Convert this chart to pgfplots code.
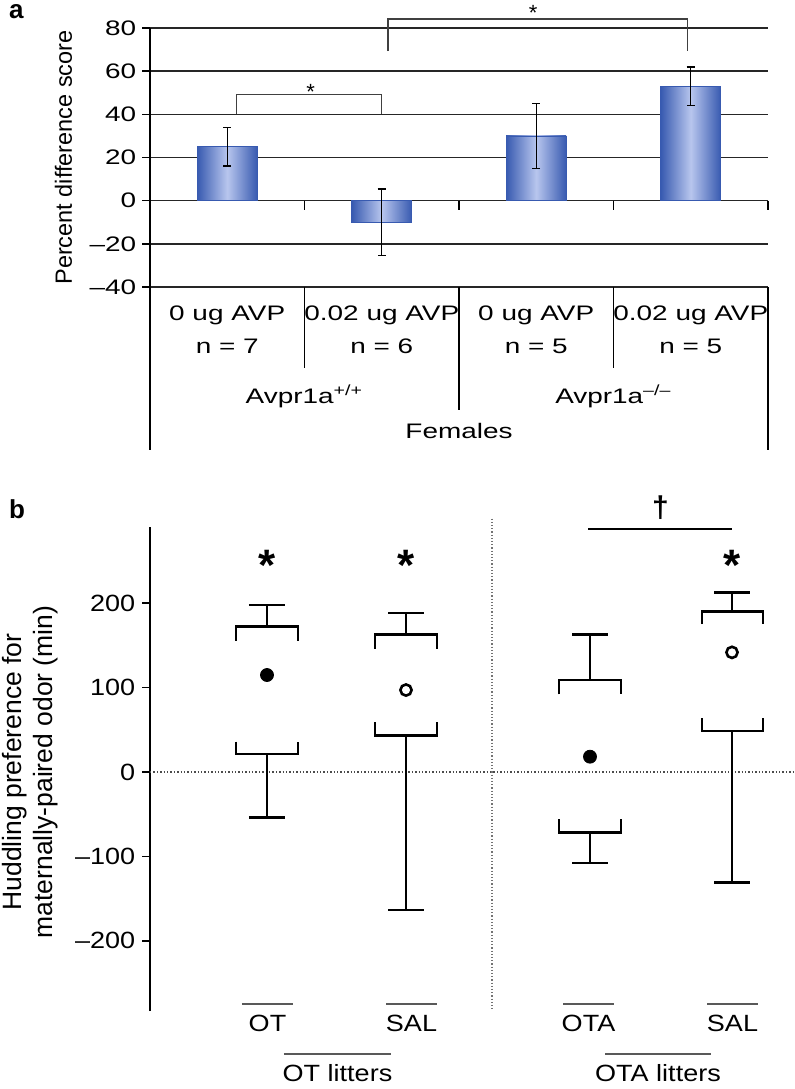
\documentclass[border=0pt]{standalone}
\usepackage{fontspec}
\setmainfont{Liberation Sans}
\usepackage{pgfplots}
\usepackage{pgfplotstable}
\pgfplotsset{compat=1.18}

\definecolor{barEdge}{RGB}{56,90,176}
\definecolor{barMid}{RGB}{184,198,238}

% panel a: mean and error
\pgfplotstableread{
x   y    e
0.5 25   9
1.5 -10  15.5
2.5 30   15
3.5 53   9
}\barsA

\tikzset{
  ta/.style={font=\fontsize{10.5}{12.6}\selectfont, xscale=1.33},
  tb/.style={font=\fontsize{11.75}{14}\selectfont, xscale=1.15},
  gl/.style={black, line width=1.25pt, mark=none},
  bara/.style={ybar, bar width=30pt, bar shift=0pt, draw=barEdge, line width=0.4pt,
    left color=barEdge, right color=barEdge, middle color=barMid},
}

\begin{document}
\begin{tikzpicture}
\path[use as bounding box] (0,0) rectangle (397pt,-544.5pt);

\node[anchor=base west, font=\fontsize{13}{15}\selectfont\bfseries] at (1pt,-9pt) {a};
\node[anchor=base west, font=\fontsize{13}{15}\selectfont\bfseries] at (1pt,-259pt) {b};

% ---------- panel a ----------
\begin{axis}[
  at={(75pt,-143.5pt)}, anchor=south west, scale only axis,
  width=309pt, height=129.5pt,
  xmin=0, xmax=4, ymin=-40, ymax=80,
  axis x line=none, axis y line*=left, ytick pos=left,
  axis line style={line width=0.7pt, black},
  ytick={-40,-20,0,20,40,60,80},
  yticklabels={–40,–20,0,20,40,60,80},
  ymajorgrids, grid style={line width=0.8pt, black!85},
  tick align=outside, major tick length=4pt,
  ytick style={line width=0.7pt, black},
  yticklabel style={ta, inner sep=0pt, xshift=-2pt},
  clip=false,
]
% one plot per bar so that each bar gets its own shading
\addplot[bara] coordinates {(0.5,25)};
\addplot[bara] coordinates {(1.5,-10)};
\addplot[bara] coordinates {(2.5,30)};
\addplot[bara] coordinates {(3.5,53)};
\addplot[draw=none, mark=none,
  error bars/.cd, y dir=both, y explicit,
  error bar style={draw=black, line width=0.7pt},
  error mark options={draw=black, rotate=90, mark size=2pt, line width=0.7pt}]
  table[x=x, y=y, y error=e] {\barsA};

% significance brackets
\addplot[black!75, line width=0.6pt] coordinates {(0.56,40)(0.56,49.3)(1.5,49.3)(1.5,40)};
\addplot[black!75, line width=0.6pt] coordinates {(1.54,69.3)(1.54,84.2)(3.48,84.2)(3.48,69.3)};
\node[anchor=north, inner sep=0pt, font=\fontsize{11}{11}\selectfont] at (axis cs:1.04,54.2) {*};
\node[anchor=north, inner sep=0pt, font=\fontsize{11}{11}\selectfont] at (axis cs:2.48,90.8) {*};

% ticks on the zero line and the category table
\draw[line width=0.7pt] (axis cs:1,0) -- (axis cs:1,-4.2);
\draw[line width=0.7pt] (axis cs:2,0) -- (axis cs:2,-4.2);
\draw[line width=0.7pt] (axis cs:3,0) -- (axis cs:3,-4.2);
\draw[line width=0.7pt] (axis cs:4,0) -- (axis cs:4,-4.2);
\draw[line width=0.7pt] (axis cs:0,-40) -- (axis cs:0,-115.5);
\draw[line width=0.6pt] (axis cs:4,-40) -- (axis cs:4,-115.5);
\draw[line width=0.6pt] (axis cs:1,-40) -- (axis cs:1,-77.5);
\draw[line width=0.6pt] (axis cs:3,-40) -- (axis cs:3,-77.5);
\draw[line width=0.6pt] (axis cs:2,-40) -- (axis cs:2,-97);
\end{axis}

\node[rotate=90, font=\fontsize{11.75}{14}\selectfont] at (31.75pt,-78.75pt) {Percent difference score};

\node[ta, anchor=base] at (113.6pt,-160pt) {0 ug AVP};
\node[ta, anchor=base] at (190.9pt,-160pt) {0.02 ug AVP};
\node[ta, anchor=base] at (268.1pt,-160pt) {0 ug AVP};
\node[ta, anchor=base] at (345.4pt,-160pt) {0.02 ug AVP};
\node[ta, anchor=base] at (113.6pt,-176.5pt) {n = 7};
\node[ta, anchor=base] at (190.9pt,-176.5pt) {n = 6};
\node[ta, anchor=base] at (268.1pt,-176.5pt) {n = 5};
\node[ta, anchor=base] at (345.4pt,-176.5pt) {n = 5};
\node[ta, anchor=base] at (152.25pt,-201.5pt) {Avpr1a\textsuperscript{+/+}};
\node[ta, anchor=base] at (306.75pt,-201.5pt) {Avpr1a\textsuperscript{–/–}};
\node[ta, anchor=base] at (229.5pt,-219pt) {Females};

% ---------- panel b ----------
\begin{axis}[
  at={(75pt,-505.5pt)}, anchor=south west, scale only axis,
  width=322pt, height=242pt,
  xmin=150, xmax=794, ymin=-283, ymax=290,
  axis x line=none, axis y line*=left, ytick pos=left,
  axis line style={line width=0.75pt, black},
  ytick={-200,-100,0,100,200},
  yticklabels={–200,–100,0,100,200},
  tick align=outside, major tick length=3.75pt,
  ytick style={line width=0.75pt, black},
  yticklabel style={tb, inner sep=0pt, xshift=-3pt},
  clip=false, unbounded coords=jump,
]
\draw[black!70, densely dotted, line width=0.7pt] (axis cs:150,0) -- (axis cs:794,0);
\draw[black!55, densely dotted, line width=0.6pt] (axis cs:492,300) -- (axis cs:492,-283);

% OT
\addplot[gl] coordinates {(249,197.6)(285,197.6) (267,nan) (267,197.6)(267,172) (267,nan)
  (236,155.4)(236,172)(298,172)(298,155.4) (267,nan)
  (236,35.9)(236,21.3)(298,21.3)(298,35.9) (267,nan)
  (267,21.3)(267,-54) (267,nan) (249,-54)(285,-54)};
% SAL (OT litters)
\addplot[gl] coordinates {(388,188.5)(424,188.5) (406,nan) (406,188.5)(406,162.9) (406,nan)
  (375,145.6)(375,162.9)(437,162.9)(437,145.6) (406,nan)
  (375,58.8)(375,43)(437,43)(437,58.8) (406,nan)
  (406,43)(406,-163.3) (406,nan) (388,-163.3)(424,-163.3)};
% OTA
\addplot[gl] coordinates {(572,163)(608,163) (590,nan) (590,163)(590,108.9) (590,nan)
  (559,91.9)(559,108.9)(621,108.9)(621,91.9) (590,nan)
  (559,-56)(559,-71.4)(621,-71.4)(621,-56) (590,nan)
  (590,-71.4)(590,-108) (590,nan) (572,-108)(608,-108)};
% SAL (OTA litters)
\addplot[gl] coordinates {(714,212.6)(750,212.6) (732,nan) (732,212.6)(732,189.7) (732,nan)
  (702,175.1)(702,189.7)(763,189.7)(763,175.1) (732,nan)
  (702,63.5)(702,48.5)(763,48.5)(763,63.5) (732,nan)
  (732,48.5)(732,-131) (732,nan) (714,-131)(750,-131)};

% means
\addplot[only marks, mark=*, mark size=3.25pt, black] coordinates {(267,114.8)(590,18.1)};
\addplot[only marks, mark=o, mark size=2.8pt, black, mark options={line width=1.3pt, fill=white}]
  coordinates {(406,97)(732,141.6)};

% significance
\node[anchor=north, inner sep=0pt, font=\fontsize{22}{22}\selectfont\bfseries] at (axis cs:267,262.7) {*};
\node[anchor=north, inner sep=0pt, font=\fontsize{22}{22}\selectfont\bfseries] at (axis cs:406,262.7) {*};
\node[anchor=north, inner sep=0pt, font=\fontsize{22}{22}\selectfont\bfseries] at (axis cs:732,262.7) {*};
\addplot[black, line width=1pt] coordinates {(588,287.2)(732,287.2)};
\node[anchor=north, inner sep=0pt, font=\fontsize{15}{15}\selectfont\bfseries] at (axis cs:660.5,327.8) {†};

% category labels
\draw[black!65, line width=1pt] (axis cs:242,-274.6) -- (axis cs:293,-274.6);
\draw[black!65, line width=1pt] (axis cs:386,-274.6) -- (axis cs:437,-274.6);
\draw[black!65, line width=1pt] (axis cs:563,-274.6) -- (axis cs:614,-274.6);
\draw[black!65, line width=1pt] (axis cs:707,-274.6) -- (axis cs:758,-274.6);
\node[tb, anchor=base] at (axis cs:267.5,-307.7) {OT};
\node[tb, anchor=base] at (axis cs:411.5,-307.7) {SAL};
\node[tb, anchor=base] at (axis cs:588.5,-307.7) {OTA};
\node[tb, anchor=base] at (axis cs:732.5,-307.7) {SAL};
\draw[black!65, line width=1pt] (axis cs:284,-333.7) -- (axis cs:391,-333.7);
\draw[black!65, line width=1pt] (axis cs:605,-333.7) -- (axis cs:711,-333.7);
\node[tb, anchor=base] at (axis cs:337.5,-366.9) {OT litters};
\node[tb, anchor=base] at (axis cs:658,-366.9) {OTA litters};
\end{axis}

\node[rotate=90, align=center, font=\fontsize{13.25}{15.5}\selectfont] at (15pt,-386pt)
  {Huddling preference for\\maternally-paired odor (min)};
\end{tikzpicture}
\end{document}
